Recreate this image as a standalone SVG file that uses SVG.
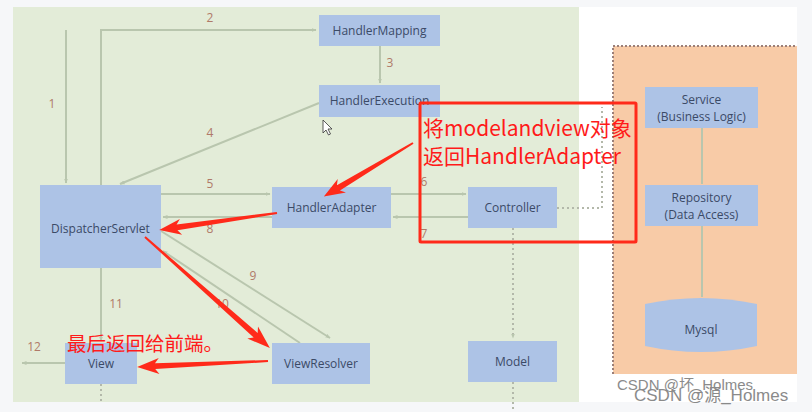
<svg xmlns="http://www.w3.org/2000/svg" width="812" height="412" viewBox="0 0 812 412">
<defs>
<style>
.box{fill:#adc3e6;}
.bt{font-family:"Open Sans","Liberation Sans",sans-serif;font-size:12px;fill:#3b4a66;text-anchor:middle;}
.num{font-family:"Open Sans","Liberation Sans",sans-serif;font-size:12px;fill:#b07a68;text-anchor:middle;}
.con{fill:none;stroke:#b9c6ae;stroke-width:2;}
.dot{fill:none;stroke:#b3b8aa;stroke-width:2;stroke-dasharray:2 3;}
.red{fill:#ff2a1a;}
.rt{font-family:"Noto Sans CJK SC","Noto Sans",sans-serif;fill:#ff1a1a;}
</style>
<marker id="ah" viewBox="0 0 10 10" refX="9" refY="5" markerWidth="5" markerHeight="5" orient="auto" markerUnits="userSpaceOnUse">
<path d="M0,1 L10,5 L0,9 Z" fill="#b9c6ae"/>
</marker>
</defs>
<rect x="0" y="0" width="812" height="412" fill="#f6f7f9"/>
<rect x="13" y="7" width="566" height="395" fill="#e3ecd8"/>
<rect x="579" y="7" width="218" height="395" fill="#ffffff"/>
<g id="backend-panel">
<rect x="613" y="46" width="184" height="328" fill="#f8cba7"/>
<path d="M613,374 L613,46 L797,46" fill="none" stroke="#9b7f78" stroke-width="2" stroke-dasharray="2 2"/>
</g>
<g id="connectors">
<path class="con" d="M66,30 L66,183" marker-end="url(#ah)"/>
<path class="con" d="M101,185 L101,30 L316,30" marker-end="url(#ah)"/>
<path class="con" d="M380,46 L380,83" marker-end="url(#ah)"/>
<path class="con" d="M319,103 L120,184" marker-end="url(#ah)"/>
<path class="con" d="M161,194 L270,194" marker-end="url(#ah)"/>
<path class="con" d="M391,194 L466,194" marker-end="url(#ah)"/>
<path class="con" d="M468,217 L393,217" marker-end="url(#ah)"/>
<path class="con" d="M272,217 L163,217" marker-end="url(#ah)"/>
<path class="con" d="M161,231 L330,338" marker-end="url(#ah)"/>
<path class="con" d="M300,343 L163,251" marker-end="url(#ah)"/>
<path class="con" d="M101,268 L101,341" marker-end="url(#ah)"/>
<path class="con" d="M65,363 L22,363" marker-end="url(#ah)"/>
<path class="dot" d="M513,228 L513,338" marker-end="url(#ah)"/>
<path class="dot" d="M513,382 L513,412"/>
<path class="dot" d="M101,384 L101,402"/>
<path class="dot" d="M557,208 L602,208 L602,107"/>
<path class="con" d="M702,128 L702,184" stroke="#d7b39a"/>
<path class="con" d="M702,226 L702,297" stroke="#d7b39a"/>
<text class="num" x="52" y="108">1</text>
<text class="num" x="210" y="22">2</text>
<text class="num" x="390" y="67">3</text>
<text class="num" x="210" y="137">4</text>
<text class="num" x="210" y="188">5</text>
<text class="num" x="424" y="186">6</text>
<text class="num" x="424" y="238">7</text>
<text class="num" x="210" y="233">8</text>
<text class="num" x="253" y="280">9</text>
<text class="num" x="222" y="308">10</text>
<text class="num" x="116" y="308">11</text>
<text class="num" x="34" y="351">12</text>
</g>
<g id="HandlerMapping"><rect class="box" x="319" y="15" width="121" height="31"/><text class="bt" x="379.5" y="35">HandlerMapping</text></g>
<g id="HandlerExecution"><rect class="box" x="319" y="85" width="121" height="32"/><text class="bt" x="379.5" y="105">HandlerExecution</text></g>
<g id="DispatcherServlet"><rect class="box" x="40" y="185" width="121" height="83"/><text class="bt" x="100.5" y="233">DispatcherServlet</text></g>
<g id="HandlerAdapter"><rect class="box" x="272" y="187" width="119" height="41"/><text class="bt" x="331.5" y="212">HandlerAdapter</text></g>
<g id="Controller"><rect class="box" x="468" y="187" width="89" height="41"/><text class="bt" x="512.5" y="212">Controller</text></g>
<g id="ViewResolver"><rect class="box" x="272" y="343" width="98" height="41"/><text class="bt" x="321" y="368">ViewResolver</text></g>
<g id="View"><rect class="box" x="65" y="343" width="72" height="41"/><text class="bt" x="101" y="368">View</text></g>
<g id="Model"><rect class="box" x="468" y="341" width="89" height="41"/><text class="bt" x="512.5" y="366">Model</text></g>
<g id="Service"><rect class="box" x="645" y="87" width="113" height="41"/><text class="bt" x="701.5" y="104">Service</text><text class="bt" x="701.5" y="121">(Business Logic)</text></g>
<g id="Repository"><rect class="box" x="645" y="185" width="113" height="41"/><text class="bt" x="701.5" y="202">Repository</text><text class="bt" x="701.5" y="219">(Data Access)</text></g>
<g id="Mysql"><path class="box" d="M645,304 Q701,292 757,304 L757,346 Q701,358 645,346 Z"/><text class="bt" x="701" y="334">Mysql</text></g>
<g id="cursor"><path d="M323,120 L323,133 L326,130 L328.5,135 L330.5,134 L328,129 L332,129 Z" fill="#ffffff" stroke="#333" stroke-width="0.8"/></g>
<g id="annotations">
<rect x="420" y="103" width="216" height="139" fill="none" stroke="#ff2a1a" stroke-width="3" rx="1"/>
<text class="rt" x="423" y="136" font-size="21">将modelandview对象</text>
<text class="rt" x="423" y="164" font-size="21">返回HandlerAdapter</text>
<text class="rt" x="67" y="351" font-size="19.5">最后返回给前端。</text>
<path class="red" transform="translate(413,143) rotate(149)" d="M0,-1 L87,-3 L83,-8 L104,0 L83,8 L87,3 L0,1 Z"/>
<path class="red" transform="translate(277,213) rotate(171.8)" d="M0,-1 L101,-3 L97,-8 L119,0 L97,8 L101,3 L0,1 Z"/>
<path class="red" transform="translate(145,237) rotate(41.6)" d="M0,-1 L148,-3 L144,-8 L167,0 L144,8 L148,3 L0,1 Z"/>
<path class="red" transform="translate(268,361) rotate(177.4)" d="M0,-1 L113,-3 L109,-8 L131,0 L109,8 L113,3 L0,1 Z"/>
</g>
<g id="watermark" font-family="'Liberation Sans','Noto Sans CJK SC',sans-serif" fill="#6e6e6e" opacity="0.8">
<text x="617" y="390" font-size="15">CSDN @坏_Holmes</text>
<text x="634" y="401" font-size="17">CSDN @源_Holmes</text>
</g>
</svg>
